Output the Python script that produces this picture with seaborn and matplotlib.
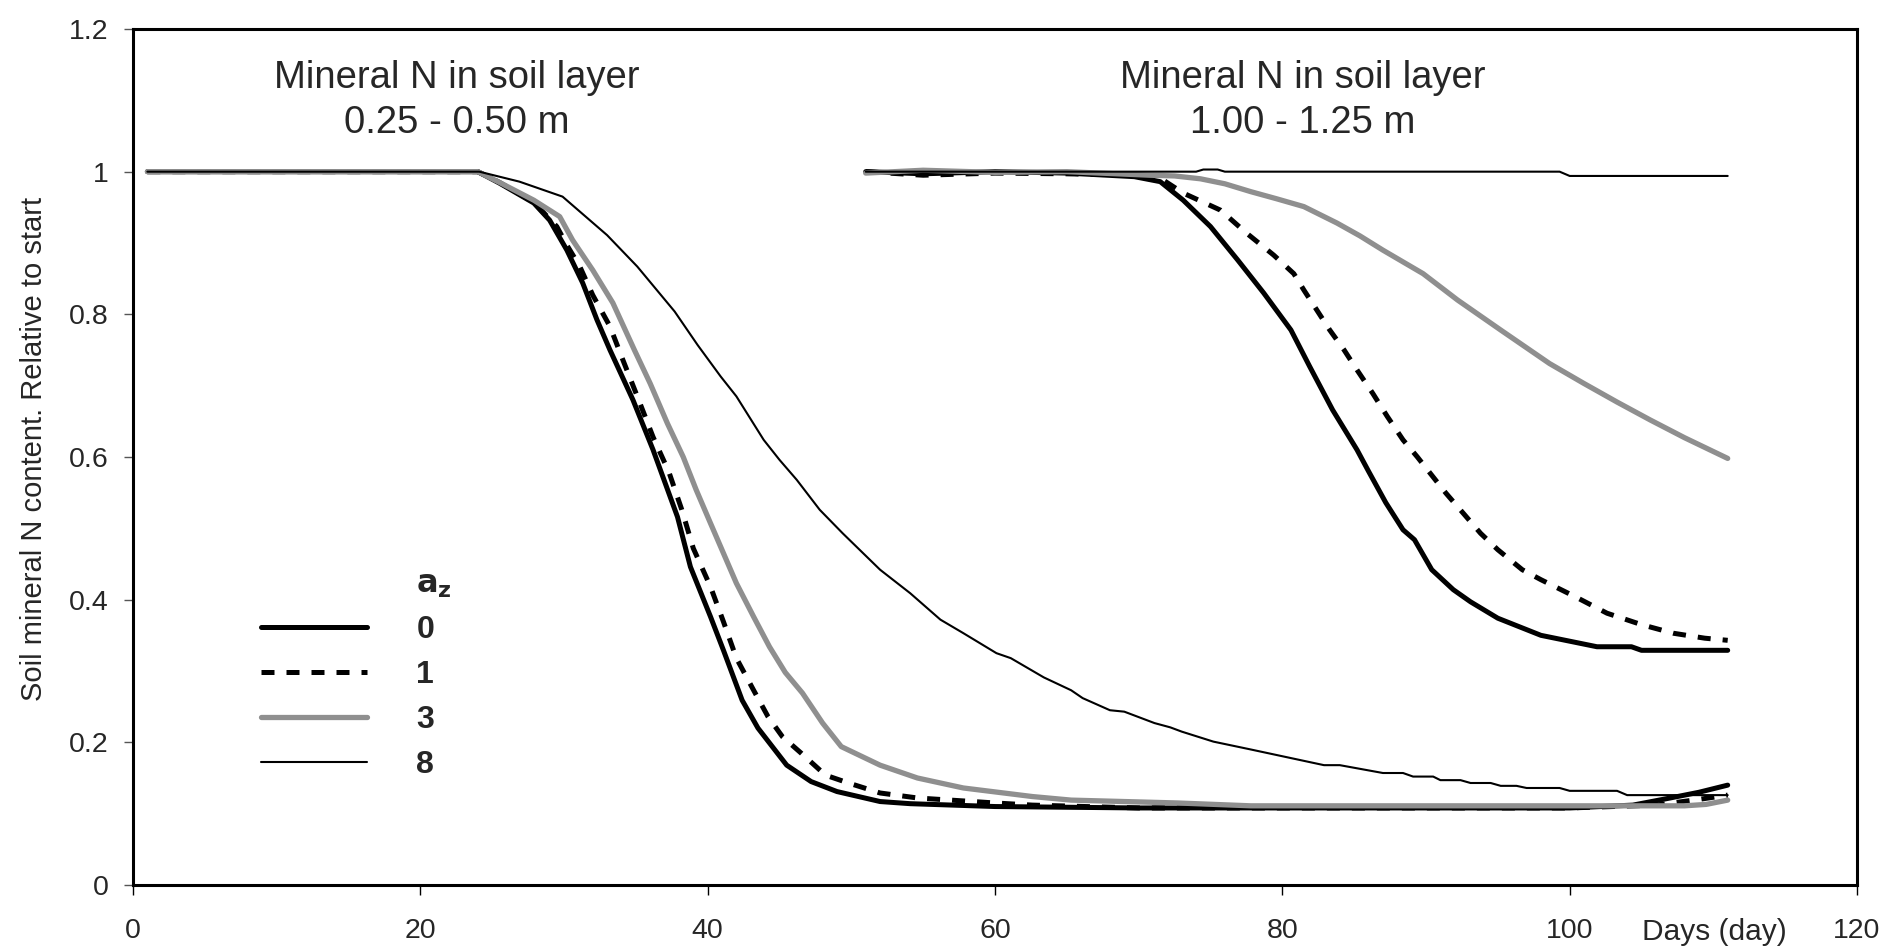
import matplotlib
matplotlib.use("Agg")
import matplotlib.pyplot as plt
from matplotlib.lines import Line2D
import seaborn as sns
import pandas as pd

# ---------------- data ----------------
# Layer 0.25 - 0.50 m
left_days_0 = [1, 24, 25.5, 27.9, 29.0, 30.2, 31.3, 32.3, 33.2, 34.8, 36.2, 37.9, 38.8, 40.2, 41.1,
               42.4, 43.5, 45.5, 47.2, 49.0, 52.0, 54.1, 60, 70, 80, 90, 100, 104.4, 107, 109, 111]
left_vals_0 = [1.0, 1.0, 0.984, 0.956, 0.932, 0.890, 0.844, 0.792, 0.750, 0.680, 0.610, 0.516, 0.446,
               0.376, 0.329, 0.259, 0.220, 0.168, 0.145, 0.131, 0.117, 0.114, 0.110, 0.108, 0.108,
               0.108, 0.108, 0.112, 0.122, 0.130, 0.140]

left_days_1 = [1, 24, 25.5, 27.9, 29.5, 30.2, 31.1, 32.0, 33.2, 34.1, 35.1, 36.2, 37.3, 38.2, 39.0,
               40.2, 41.1, 42.0, 43.2, 44.2, 45.2, 46.5, 48.2, 49.8, 52.0, 54.6, 60, 62.6, 70, 80,
               90, 100, 106, 109, 111]
left_vals_1 = [1.0, 1.0, 0.985, 0.957, 0.923, 0.897, 0.867, 0.827, 0.783, 0.736, 0.685, 0.628, 0.579,
               0.526, 0.472, 0.418, 0.369, 0.318, 0.273, 0.236, 0.208, 0.185, 0.154, 0.143, 0.129,
               0.122, 0.115, 0.112, 0.108, 0.108, 0.108, 0.108, 0.112, 0.120, 0.126]

left_days_3 = [1, 24, 25.5, 27.9, 29.7, 30.6, 32.0, 33.4, 34.9, 36.0, 37.2, 38.3, 39.2, 40.2, 41.1,
               42.0, 43.2, 44.3, 45.4, 46.6, 48.0, 49.3, 52.0, 54.6, 57.8, 62.6, 65.3, 72.7, 77.8,
               90, 100, 108, 109.5, 111]
left_vals_3 = [1.0, 1.0, 0.985, 0.960, 0.937, 0.904, 0.862, 0.816, 0.750, 0.703, 0.647, 0.600, 0.554,
               0.507, 0.465, 0.423, 0.376, 0.334, 0.298, 0.269, 0.227, 0.194, 0.168, 0.150, 0.136,
               0.124, 0.119, 0.115, 0.111, 0.111, 0.111, 0.111, 0.113, 0.119]

left_days_8 = [1, 24.1, 26.9, 29.9, 33.0, 35.1, 37.7, 39.3, 40.9, 42.0, 43.9, 45.0, 46.2, 47.8, 49.4,
               52.0, 54.1, 56.2, 57.8, 60.1, 61.1, 63.4, 65.3, 66.1, 68.0, 69.0, 71.1, 72.2, 73.0,
               75.2, 77.8, 82.9, 84.0, 87.0, 88.4, 89.1, 90.5, 91.0, 92.4, 93.1, 94.5, 95.2, 96.3,
               97.0, 99.3, 100.0, 103.3, 104.0, 107.5, 111]
left_vals_8 = [1.0, 1.0, 0.986, 0.965, 0.911, 0.867, 0.804, 0.757, 0.713, 0.685, 0.624, 0.596, 0.568,
               0.526, 0.493, 0.442, 0.409, 0.372, 0.353, 0.325, 0.318, 0.291, 0.273, 0.262, 0.245,
               0.243, 0.227, 0.221, 0.215, 0.201, 0.190, 0.168, 0.168, 0.157, 0.157, 0.152, 0.152,
               0.147, 0.147, 0.143, 0.143, 0.139, 0.139, 0.136, 0.136, 0.132, 0.132, 0.126, 0.126,
               0.126]

# Layer 1.00 - 1.25 m
right_days_0 = [51, 55, 60, 65, 69.7, 71.5, 73.1, 75.0, 76.9, 78.7, 80.6, 81.9, 83.5, 85.2, 86.0,
                87.2, 88.4, 89.2, 90.4, 91.9, 93.1, 95.0, 98.0, 101.9, 104.3, 105.0, 111]
right_vals_0 = [1.0, 0.997, 1.0, 0.998, 0.993, 0.986, 0.960, 0.923, 0.876, 0.830, 0.778, 0.727, 0.666,
                0.610, 0.580, 0.536, 0.498, 0.484, 0.442, 0.414, 0.397, 0.374, 0.350, 0.334, 0.334,
                0.329, 0.329]

right_days_1 = [51, 55, 60, 65, 70, 71.8, 73.1, 75.7, 77.5, 79.4, 80.8, 81.5, 82.4, 83.3, 84.3, 85.2,
                86.3, 87.3, 88.4, 89.4, 90.3, 91.4, 92.6, 93.8, 95.0, 96.7, 98.0, 100.4, 102.6,
                105.0, 107.2, 109.4, 111]
right_vals_1 = [1.0, 0.995, 0.998, 0.997, 0.995, 0.987, 0.970, 0.946, 0.914, 0.883, 0.857, 0.834,
                0.806, 0.778, 0.750, 0.722, 0.689, 0.657, 0.624, 0.600, 0.577, 0.549, 0.521, 0.493,
                0.470, 0.442, 0.428, 0.404, 0.381, 0.365, 0.353, 0.346, 0.343]

right_days_3 = [51, 55, 60, 65, 70.8, 72.5, 74.3, 76.0, 77.8, 79.6, 81.5, 83.8, 85.4, 87.0, 89.8,
                92.2, 95.2, 98.6, 101.0, 103.3, 105.6, 108, 111]
right_vals_3 = [0.998, 1.002, 0.999, 1.0, 0.995, 0.994, 0.990, 0.983, 0.972, 0.962, 0.951, 0.928,
                0.910, 0.890, 0.857, 0.820, 0.778, 0.731, 0.703, 0.677, 0.652, 0.627, 0.598]

right_days_8 = [51, 74.0, 74.5, 75.5, 76.0, 99.3, 100.0, 111]
right_vals_8 = [1.0, 1.0, 1.003, 1.003, 1.0, 1.0, 0.994, 0.994]

az_labels = ["0", "1", "3", "8"]
panel_titles = ["Mineral N in soil layer\n0.25 - 0.50 m", "Mineral N in soil layer\n1.00 - 1.25 m"]
title_x = [22.5, 81.4]
title_y = 1.100
x_ticks = [0, 20, 40, 60, 80, 100, 120]
y_ticks = [0, 0.2, 0.4, 0.6, 0.8, 1.0, 1.2]
y_tick_labels = ["0", "0.2", "0.4", "0.6", "0.8", "1", "1.2"]

# ---------------- style ----------------
sns.set_theme(style="white")
plt.rcParams["font.family"] = ["Liberation Sans", "DejaVu Sans"]

fig = plt.figure(figsize=(18.86, 9.52), dpi=100)
ax = fig.add_axes([133 / 1886, 1 - 885 / 952, 1724 / 1886, 856 / 952])

styles = {
    "0": dict(color="black", linewidth=3.6, linestyle="-"),
    "1": dict(color="black", linewidth=3.6, linestyle="--"),
    "3": dict(color="#8f8f8f", linewidth=3.8, linestyle="-"),
    "8": dict(color="black", linewidth=1.5, linestyle="-"),
}

series = {
    "0": [(left_days_0, left_vals_0), (right_days_0, right_vals_0)],
    "1": [(left_days_1, left_vals_1), (right_days_1, right_vals_1)],
    "3": [(left_days_3, left_vals_3), (right_days_3, right_vals_3)],
    "8": [(left_days_8, left_vals_8), (right_days_8, right_vals_8)],
}

handles = []
for key in az_labels:
    for i, (d, v) in enumerate(series[key]):
        df = pd.DataFrame({"day": d, "val": v})
        sns.lineplot(data=df, x="day", y="val", ax=ax, sort=False, estimator=None,
                     legend=False, **styles[key])
        ln = ax.lines[-1]
        ln.set_solid_capstyle("round")
        ln.set_solid_joinstyle("round")
        if key == "1":
            ln.set_dashes((2.6, 2.4))
            ln.set_dash_capstyle("butt")
        if i == 0:
            handles.append(ln)

ax.set_xlim(0, 120)
ax.set_ylim(0, 1.2)
ax.set_xticks(x_ticks)
ax.set_xticklabels([str(t) for t in x_ticks])
ax.set_yticks(y_ticks)
ax.set_yticklabels(y_tick_labels)

for s in ax.spines.values():
    s.set_visible(True)
    s.set_color("black")
    s.set_linewidth(2.2)

ax.tick_params(axis="x", direction="out", length=7, width=1.0, color="black",
               labelsize=20.5, pad=17, bottom=True)
ax.tick_params(axis="y", direction="out", length=6.5, width=1.0, color="#555555",
               labelsize=20.5, pad=11, left=True)

ax.set_ylabel("Soil mineral N content. Relative to start", fontsize=21)
ax.yaxis.set_label_coords(-0.0575, 0.51)
ax.yaxis.label.set_va("center")

ax.set_xlabel("Days (day)", fontsize=21.5)
ax.xaxis.set_label_coords(0.917, -0.055)
ax.xaxis.label.set_va("center")

for tx, txt in zip(title_x, panel_titles):
    ax.text(tx, title_y, txt, ha="center", va="center", fontsize=27.5, linespacing=1.3)

blank = Line2D([], [], linestyle="none")
leg = ax.legend([blank] + handles, [r"$\mathbf{a_z}$"] + az_labels,
                loc="upper left", bbox_to_anchor=(0.0745, 0.368), frameon=False,
                prop=dict(size=23, weight="bold"), handlelength=3.3, handletextpad=1.55,
                labelspacing=0.47, borderpad=0, borderaxespad=0)

fig.savefig("out.png", dpi=100)
